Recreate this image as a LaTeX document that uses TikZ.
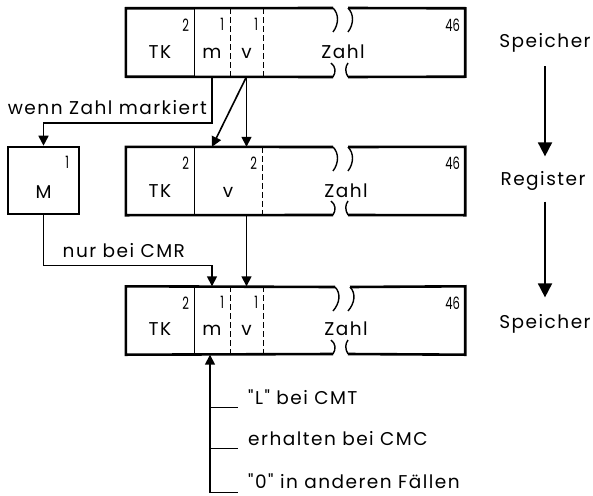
\documentclass[tikz,border=0pt]{standalone}
\usepackage{fontspec}
\setmainfont{Poppins}[Ligatures=TeXOff, LetterSpace=8]
\newfontfamily\numfont[FakeStretch=0.68]{Poppins}
\usetikzlibrary{arrows.meta,calc,positioning}

\begin{document}
\begin{tikzpicture}[x=1pt, y=-1pt,
    every node/.style={font=\fontsize{18.5}{20}\selectfont},
    cell/.style={inner sep=0pt, minimum height=68pt},
    num/.style={font=\numfont\fontsize{17}{17}\selectfont, inner sep=0pt, anchor=north east},
    txt/.style={anchor=base},
    frame/.style={line width=2.6pt},
    sep/.style={line width=1.4pt},
    sepd/.style={line width=1.4pt, dash pattern=on 6pt off 3pt},
    brk/.style={line width=1.4pt},
    arr/.style={line width=1.6pt, -{Triangle[length=10pt,width=10pt]}},
    bigarr/.style={line width=1.8pt, -{Triangle[length=14pt,width=14pt]}},
    lbl/.style={inner sep=0pt}]
    \useasboundingbox (0,0) rectangle (593,495);

    % Speicher (top)
    \node[cell, minimum width=68pt] (tk1) at (160,42.5) {};
    \node[cell, minimum width=36pt] (m1) at (212,42.5) {};
    \node[cell, minimum width=33pt] (v1) at (246.5,42.5) {};
    \node[cell, minimum width=202pt] (z1) at (364,42.5) {};
    \draw[frame] (333,8) -- (tk1.north west) -- (tk1.south west) -- (333,77);
    \draw[frame] (348,8) -- (z1.north east) -- (z1.south east) -- (348,77);
    \draw[brk] (333,8) .. controls (339,14) and (339,24) .. (333,32);
    \draw[brk] (348,8) .. controls (354,14) and (354,24) .. (348,32);
    \draw[brk] (333,77) .. controls (336,72) and (336,67) .. (331,63);
    \draw[brk] (348,77) .. controls (345,72) and (345,67) .. (348,63);
    \draw[sep] (tk1.north east) -- (tk1.south east);
    \draw[sepd] (m1.north east) -- (m1.south east);
    \draw[sepd] (v1.north east) -- (v1.south east);
    \node[num] (n1a) at ($(tk1.north east)+(-5,10)$) {2};
    \node[num] (n1b) at ($(m1.north east)+(-6,10)$) {1};
    \node[num] (n1c) at ($(v1.north east)+(-5,10)$) {1};
    \node[num] (n1d) at ($(z1.north east)+(-5,10)$) {46};
    \node[txt] (tk1t) at (160,58) {TK};
    \node[txt] (m1t) at (212,58) {m};
    \node[txt] (v1t) at (246.5,58) {v};
    \node[txt] (z1t) at (343,58) {Zahl};

    % M
    \node[draw, frame, minimum width=71pt, minimum height=67pt, inner sep=0pt] (mbox) at (43.5,180.5) {};
    \node[num] (nm) at ($(mbox.north east)+(-11,10)$) {1};
    \node[txt] (mt) at (43.5,198) {M};

    % Register
    \node[cell, minimum width=68pt] (tk2) at (160,181) {};
    \node[cell, minimum width=68pt] (v2) at (228,181) {};
    \node[cell, minimum width=203pt] (z2) at (363.5,181) {};
    \draw[frame] (333,147) -- (tk2.north west) -- (tk2.south west) -- (333,215);
    \draw[frame] (348,147) -- (z2.north east) -- (z2.south east) -- (348,215);
    \draw[brk] (333,147) .. controls (339,153) and (339,163) .. (333,171);
    \draw[brk] (348,147) .. controls (354,153) and (354,163) .. (348,171);
    \draw[brk] (333,215) .. controls (336,210) and (336,205) .. (331,201);
    \draw[brk] (348,215) .. controls (345,210) and (345,205) .. (348,201);
    \draw[sep] (tk2.north east) -- (tk2.south east);
    \draw[sepd] (v2.north east) -- (v2.south east);
    \node[num] (n2a) at ($(tk2.north east)+(-5,10)$) {2};
    \node[num] (n2b) at ($(v2.north east)+(-5,10)$) {2};
    \node[num] (n2c) at ($(z2.north east)+(-5,10)$) {46};
    \node[txt] (tk2t) at (160,197) {TK};
    \node[txt] (v2t) at (228,197) {v};
    \node[txt] (z2t) at (346,197) {Zahl};

    % Speicher (bottom)
    \node[cell, minimum width=68pt] (tk3) at (160,320.5) {};
    \node[cell, minimum width=36pt] (m3) at (212,320.5) {};
    \node[cell, minimum width=33pt] (v3) at (246.5,320.5) {};
    \node[cell, minimum width=202pt] (z3) at (364,320.5) {};
    \draw[frame] (335,287) -- (tk3.north west) -- (tk3.south west) -- (333,354);
    \draw[frame] (350,287) -- (z3.north east) -- (z3.south east) -- (348,354);
    \draw[brk] (335,287) .. controls (341,293) and (340,303) .. (333,311);
    \draw[brk] (350,287) .. controls (356,293) and (355,303) .. (348,311);
    \draw[brk] (333,354) .. controls (336,349) and (336,344) .. (331,340);
    \draw[brk] (348,354) .. controls (345,349) and (345,344) .. (348,340);
    \draw[sep] (tk3.north east) -- (tk3.south east);
    \draw[sepd] (m3.north east) -- (m3.south east);
    \draw[sepd] (v3.north east) -- (v3.south east);
    \node[num] (n3a) at ($(tk3.north east)+(-5,10)$) {2};
    \node[num] (n3b) at ($(m3.north east)+(-6,10)$) {1};
    \node[num] (n3c) at ($(v3.north east)+(-5,10)$) {1};
    \node[num] (n3d) at ($(z3.north east)+(-5,10)$) {46};
    \node[txt] (tk3t) at (160,335) {TK};
    \node[txt] (m3t) at (212,335) {m};
    \node[txt] (v3t) at (246.5,335) {v};
    \node[txt] (z3t) at (346,335) {Zahl};

    % Arrows
    \draw[arr] (m1.south) -- ++(0,46) coordinate (c1) -| (mbox.north);
    \node[lbl, anchor=base east] (wenn) at ($(c1)+(-5,-8)$) {wenn Zahl markiert};
    \draw[arr] (v1.south) -- (m1.south |- v2.north);
    \draw[arr] (v1.south) -- (v1.south |- v2.north);
    \draw[arr] (v1.south |- v2.south) -- (v3.north);
    \draw[arr] (mbox.south) -- ++(0,50) coordinate (c2) -| (m3.north);
    \node[lbl, anchor=base west] (nur) at ($(c2)+(19,-8)$) {nur bei CMR};

    % m-Bit beim Speichern
    \coordinate (f0) at ($(m3.south)+(-2,138)$);
    \coordinate (f1) at ($(m3.south)+(-2,53)$);
    \coordinate (f2) at ($(m3.south)+(-2,94)$);
    \draw[arr] (f0) -- (f0 |- m3.south);
    \draw[sep] (f1) -- ++(28,0) coordinate (e1);
    \draw[sep] (f2) -- ++(28,0) coordinate (e2);
    \draw[sep] (f0) -- ++(28,0) coordinate (e0);
    \node[lbl, anchor=base west] (cmt) at ($(e1)+(10,-3)$) {"L" bei CMT};
    \node[lbl, anchor=base west] (cmc) at ($(e2)+(10,-3)$) {erhalten bei CMC};
    \node[lbl, anchor=base west] (sonst) at ($(e0)+(10,-4)$) {"0" in anderen Fällen};

    % Ablauf
    \node[txt] (sp1) at (545,48) {Speicher};
    \node[txt] (reg) at (543,185) {Register};
    \node[txt] (sp2) at (545,328) {Speicher};
    \draw[bigarr, shorten <=10pt, shorten >=11pt] (sp1.south) -- (sp1.south |- reg.north);
    \draw[bigarr, shorten <=8pt, shorten >=13pt] (sp1.south |- reg.south) -- (sp2.north);
\end{tikzpicture}
\end{document}
